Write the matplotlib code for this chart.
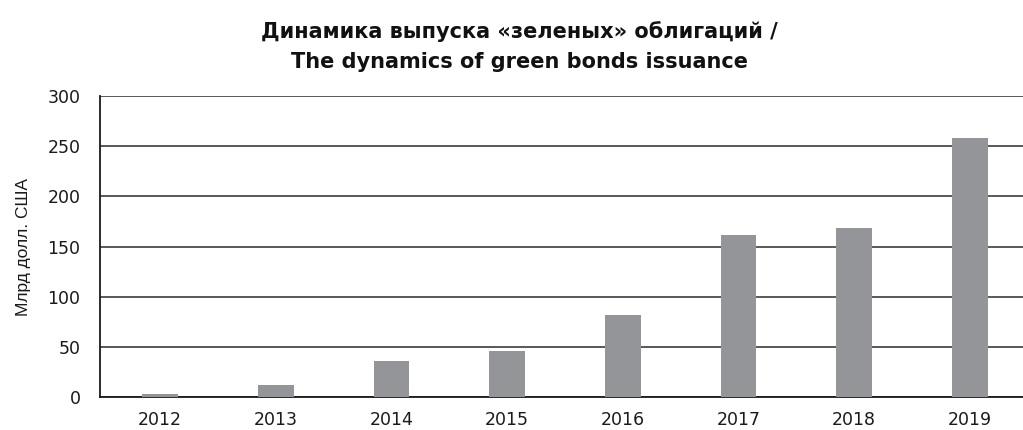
import matplotlib.pyplot as plt

years = ["2012", "2013", "2014", "2015", "2016", "2017", "2018", "2019"]
issuance = [2.6, 11.5, 36, 45.5, 81.5, 161, 168, 258]
yticks = [0, 50, 100, 150, 200, 250, 300]

plt.rcParams["font.family"] = ["DejaVu Sans"]

fig = plt.figure(figsize=(10.23, 4.30), dpi=100)
ax = fig.add_axes([0.0978, 0.0767, 0.9022, 0.70])

x = list(range(len(years)))
ax.bar(x, issuance, width=0.31, color="#939598", zorder=3)

ax.set_ylim(0, 300)
ax.set_xlim(-0.52, 7.46)
ax.set_yticks(yticks)
ax.set_xticks(x)
ax.set_xticklabels(years)
ax.grid(axis="y", color="#2b2b2b", linewidth=1.1, zorder=1)
ax.tick_params(length=0, labelsize=12.5, colors="#1a1a1a", pad=10)
ax.tick_params(axis="y", pad=14)
for s in ["top", "right"]:
    ax.spines[s].set_visible(False)
for s in ["left", "bottom"]:
    ax.spines[s].set_color("#1a1a1a")
    ax.spines[s].set_linewidth(1.3)
ax.set_ylabel("Млрд долл. США", fontsize=12.5, color="#1a1a1a", labelpad=12,
              family="Liberation Sans")

fig.text(0.508, 0.892, "Динамика выпуска «зеленых» облигаций /\nThe dynamics of green bonds issuance",
         ha="center", va="center", fontsize=15, fontweight="bold", color="#111111",
         linespacing=1.6)

fig.savefig("out.png", dpi=100)
